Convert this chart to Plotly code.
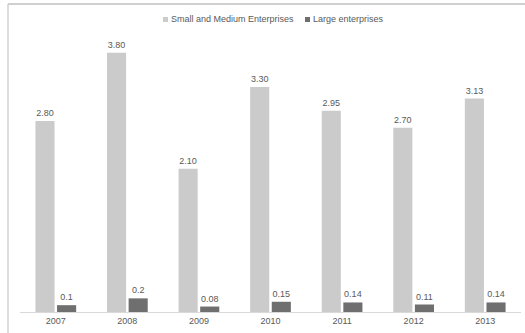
import plotly.graph_objects as go

years = ["2007", "2008", "2009", "2010", "2011", "2012", "2013"]
sme_values = [2.80, 3.80, 2.10, 3.30, 2.95, 2.70, 3.13]
large_values = [0.1, 0.2, 0.08, 0.15, 0.14, 0.11, 0.14]
sme_labels = [f"{v:.2f}" for v in sme_values]
large_labels = [f"{v:g}" for v in large_values]
series_names = ["Small and Medium Enterprises", "Large enterprises"]
series_colors = ["#cbcbcb", "#6f6f6f"]

W, H = 525, 333
L, R, T, B = 20, 4, 40, 21
plot_w = W - L - R
plot_h = H - T - B

FAMILY = "Liberation Sans, Arial, sans-serif"
GREY = "#595959"
label_font = dict(family=FAMILY, size=9, color=GREY)


def px_x(p):
    return (p - L) / plot_w


def px_y(p):
    return (H - B - p) / plot_h


fig = go.Figure()
for vals, labels, name, color in zip(
    [sme_values, large_values], [sme_labels, large_labels], series_names, series_colors
):
    fig.add_trace(go.Bar(
        x=years, y=vals, name=name,
        text=labels, textposition="outside", cliponaxis=False,
        constraintext="none",
        marker=dict(color=color, line=dict(width=0)),
        textfont=label_font, showlegend=False,
    ))

# outer frame: top and left rules
fig.add_shape(type="line", xref="paper", yref="paper",
              x0=px_x(8), x1=px_x(525), y0=px_y(4), y1=px_y(4),
              line=dict(color="#bfbfbf", width=1.5))
fig.add_shape(type="line", xref="paper", yref="paper",
              x0=px_x(8), x1=px_x(8), y0=px_y(4), y1=px_y(333),
              line=dict(color="#d0d0d0", width=1.5))

# compact legend: small square key followed by the series name
legend_keys = [163, 305]
for name, color, kx in zip(series_names, series_colors, legend_keys):
    fig.add_shape(type="rect", xref="paper", yref="paper",
                  x0=px_x(kx), x1=px_x(kx + 5), y0=px_y(22), y1=px_y(17),
                  fillcolor=color, line=dict(width=0))
    fig.add_annotation(xref="paper", yref="paper", x=px_x(kx + 6), y=px_y(19.5),
                       xanchor="left", yanchor="middle", showarrow=False,
                       text=name, font=dict(family=FAMILY, size=9, color=GREY))

fig.update_layout(
    width=W, height=H,
    margin=dict(l=L, r=R, t=T, b=B, pad=0),
    paper_bgcolor="white", plot_bgcolor="white",
    barmode="group", bargap=0.396, bargroupgap=0.116,
    font=label_font,
    showlegend=False,
    xaxis=dict(showline=True, linecolor="#d9d9d9", linewidth=1,
               ticks="", showgrid=False, tickfont=label_font, fixedrange=True),
    yaxis=dict(range=[0, plot_h / 68.2], showgrid=False, showticklabels=False,
               zeroline=False, showline=False, fixedrange=True),
)

fig.write_html("out.html")
